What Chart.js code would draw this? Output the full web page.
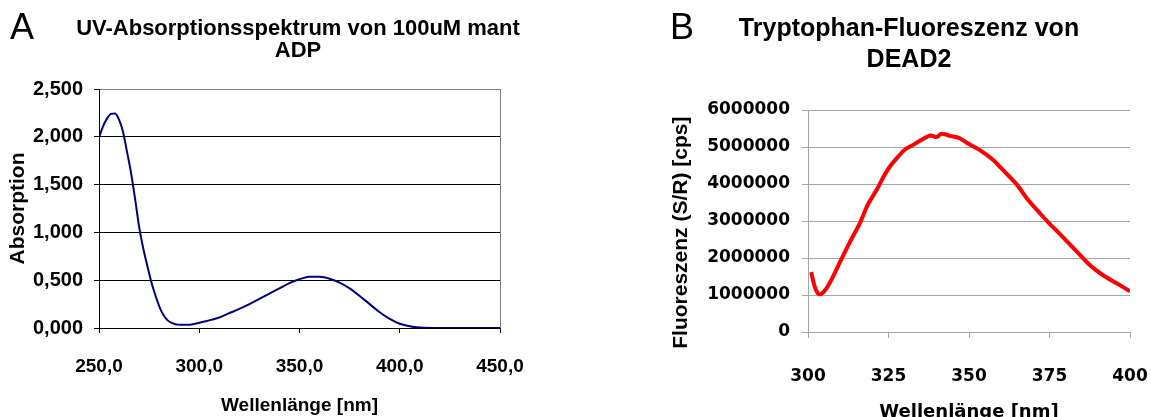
<!DOCTYPE html>
<html>
<head>
<meta charset="utf-8">
<script src="https://cdn.jsdelivr.net/npm/chart.js@4"></script>
<style>
  html, body { margin: 0; padding: 0; background: #fff; overflow: hidden; }
  #wrap { position: relative; width: 1151px; height: 417px; overflow: hidden; }
  canvas { position: absolute; top: 0; }
  .tag { position: absolute; font: 36px "Liberation Sans", Arial, sans-serif; line-height: 36px; color: #000; }
  .title { position: absolute; font-family: "Liberation Sans", Arial, sans-serif; font-weight: bold;
           color: #000; text-align: center; white-space: nowrap; transform: translateX(-50%); }
</style>
</head>
<body>
<div id="wrap">
  <canvas id="absChart" width="596" height="417" style="left:0"></canvas>
  <canvas id="fluoChart" width="512" height="417" style="left:668px"></canvas>
  <div class="tag" style="left:10px; top:9px">A</div>
  <div class="tag" style="left:670px; top:9px">B</div>
  <div class="title" style="left:298px; top:17px; font-size:22px; line-height:21.5px">UV-Absorptionsspektrum von 100uM mant<br>ADP</div>
  <div class="title" style="left:909px; top:12px; font-size:25px; line-height:31px">Tryptophan-Fluoreszenz von<br>DEAD2</div>
</div>
<script>
// Panel A: UV absorption of 100uM mant-ADP
const absWavelength = [250, 252, 254, 256, 258, 260, 262, 264, 266, 268, 270, 272, 274, 276, 278, 280, 282, 284, 286, 288, 290, 294, 298, 302, 306, 310, 315, 320, 325, 330, 335, 340, 345, 350, 355, 360, 365, 370, 375, 380, 385, 390, 395, 400, 405, 410, 420, 450];
const absValues = [1.99, 2.11, 2.19, 2.24, 2.245, 2.18, 2.05, 1.84, 1.62, 1.35, 1.06, 0.84, 0.66, 0.49, 0.35, 0.23, 0.14, 0.085, 0.055, 0.04, 0.035, 0.033, 0.045, 0.065, 0.085, 0.11, 0.155, 0.2, 0.25, 0.305, 0.36, 0.415, 0.47, 0.51, 0.535, 0.535, 0.515, 0.475, 0.415, 0.335, 0.25, 0.165, 0.095, 0.045, 0.018, 0.005, 0.0, 0.0];
const absXTicks = [250, 300, 350, 400, 450];
const absYTicks = [0, 0.5, 1, 1.5, 2, 2.5];

// Panel B: tryptophan fluorescence of DEAD2
const fluoWavelength = [301, 302, 303, 304, 305.5, 307.5, 310, 313, 316, 318.5, 321.5, 323.5, 325.5, 328, 330, 332.5, 335, 338, 340, 341.5, 344, 347, 350, 353.5, 357.5, 360.5, 365, 368, 372, 375, 379, 383.5, 387.5, 391.5, 396, 400];
const fluoValues = [1620000, 1250000, 1050000, 1020000, 1150000, 1450000, 1900000, 2430000, 2920000, 3430000, 3870000, 4200000, 4480000, 4740000, 4920000, 5050000, 5180000, 5310000, 5270000, 5360000, 5300000, 5240000, 5080000, 4910000, 4650000, 4380000, 3970000, 3610000, 3210000, 2930000, 2580000, 2170000, 1810000, 1540000, 1310000, 1100000];
const fluoXTicks = [300, 325, 350, 375, 400];
const fluoYTicks = [0, 1000000, 2000000, 3000000, 4000000, 5000000, 6000000];

Chart.defaults.color = '#000';
Chart.defaults.animation = false;

const arial = 'Liberation Sans, Arial, sans-serif';
const dejavu = 'DejaVu Sans, Verdana, sans-serif';

function toPoints(xs, ys) {
  return xs.map((x, i) => ({ x: x, y: ys[i] }));
}

function fixedTicks(list) {
  return (axis) => { axis.ticks = list.map(v => ({ value: v })); };
}

new Chart(document.getElementById('absChart'), {
  type: 'line',
  data: {
    datasets: [{
      data: toPoints(absWavelength, absValues),
      borderColor: '#000080',
      borderWidth: 2,
      pointRadius: 0,
      tension: 0.4,
      cubicInterpolationMode: 'monotone'
    }]
  },
  options: {
    responsive: false,
    layout: { padding: { left: 0, right: 96, top: 89, bottom: 0 } },
    plugins: {
      legend: { display: false },
      tooltip: { enabled: false },
      title: { display: false }
    },
    scales: {
      x: {
        type: 'linear',
        min: 250,
        max: 450,
        afterBuildTicks: fixedTicks(absXTicks),
        afterFit: (s) => { s.height = 89; },
        border: { color: '#000', width: 1 },
        grid: {
          drawOnChartArea: true,
          color: (c) => c.tick && c.tick.value === 450 ? '#808080' : 'rgba(0,0,0,0)',
          tickColor: '#000',
          tickLength: 5
        },
        ticks: {
          padding: 22,
          maxRotation: 0,
          font: { family: arial, size: 19, weight: 'bold' },
          callback: (v) => v.toFixed(1).replace('.', ',')
        },
        title: {
          display: true,
          text: 'Wellenlänge [nm]',
          font: { family: arial, size: 19, weight: 'bold' },
          padding: { top: 0, bottom: 0 }
        }
      },
      y: {
        min: 0,
        max: 2.5,
        afterBuildTicks: fixedTicks(absYTicks),
        afterFit: (s) => { s.width = 99; },
        border: { color: '#000', width: 1 },
        grid: {
          color: (c) => c.tick && c.tick.value === 2.5 ? '#808080' : '#000',
          tickColor: '#000',
          tickLength: 5
        },
        ticks: {
          padding: 11,
          font: { family: arial, size: 20, weight: 'bold' },
          callback: (v) => v.toFixed(3).replace('.', ',')
        },
        title: {
          display: true,
          text: 'Absorption',
          font: { family: arial, size: 21, weight: 'bold' },
          padding: { top: 6, bottom: 0 }
        }
      }
    }
  }
});

new Chart(document.getElementById('fluoChart'), {
  type: 'line',
  data: {
    datasets: [{
      data: toPoints(fluoWavelength, fluoValues),
      borderColor: '#ff0000',
      borderWidth: 4,
      pointRadius: 0,
      tension: 0.3
    }]
  },
  options: {
    responsive: false,
    // right padding covers the last tick label + its padding, so chart area ends at x=1130
    layout: { padding: { left: 0, right: 50, top: 110, bottom: 0 } },
    plugins: {
      legend: { display: false },
      tooltip: { enabled: false },
      title: { display: false }
    },
    scales: {
      x: {
        type: 'linear',
        min: 300,
        max: 400,
        afterBuildTicks: fixedTicks(fluoXTicks),
        afterFit: (s) => { s.height = 85; },
        border: { color: '#a6a6a6', width: 1 },
        grid: { drawOnChartArea: false, tickColor: '#a6a6a6', tickLength: 6 },
        ticks: {
          padding: 28,
          maxRotation: 0,
          font: { family: dejavu, size: 17, weight: 'bold' }
        },
        title: {
          display: true,
          text: 'Wellenlänge [nm]',
          font: { family: dejavu, size: 18, weight: 'bold' },
          padding: { top: 0, bottom: -6 }
        }
      },
      y: {
        min: 0,
        max: 6000000,
        afterBuildTicks: fixedTicks(fluoYTicks),
        afterFit: (s) => { s.width = 140; },
        border: { color: '#a6a6a6', width: 1 },
        grid: { color: '#a6a6a6', tickColor: '#a6a6a6', tickLength: 6 },
        ticks: {
          padding: 12,
          font: { family: dejavu, size: 17, weight: 'bold' },
          callback: (v) => String(v)
        },
        title: {
          display: true,
          text: 'Fluoreszenz (S/R) [cps]\u00a0\u00a0\u00a0\u00a0',
          font: { family: arial, size: 21, weight: 'bold' },
          padding: { top: 1, bottom: 0 }
        }
      }
    }
  }
});
</script>
</body>
</html>
